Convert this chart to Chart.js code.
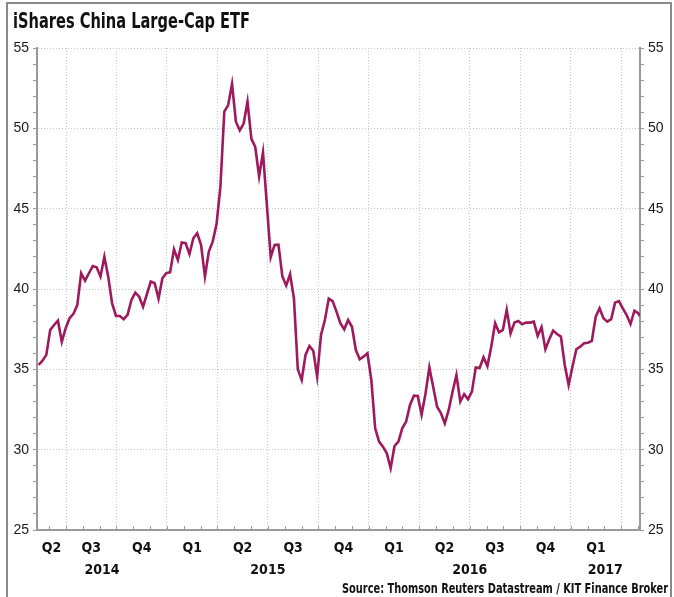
<!DOCTYPE html>
<html>
<head>
<meta charset="utf-8">
<script src="https://cdn.jsdelivr.net/npm/chart.js@4"></script>
<style>
  html, body { margin: 0; padding: 0; background: #fff; }
  #wrap { width: 674px; height: 597px; }
</style>
</head>
<body>
<div id="wrap"><canvas id="c" width="674" height="597"></canvas></div>
<script>
// ---- data (x = weeks since 1 Jan 2014, y = ETF price in USD) ----
const weeks = [
  19,20,21,22,23,24,25,26,27,28,29,30,31,32,33,34,35,36,37,38,39,40,41,42,43,44,45,46,
  48,49,50,51,52,53,54,55,56,57,58,59,60,61,62,63,64,65,66,67,68,69,70,71,72,73,74,75,76,77,
  79,80,81,82,83,84,85,86,87,88,89,90,91,92,93,94,95,96,97,98,99,100,101,102,103,104,105,
  106,107,108,109,110,111,112,113,114,115,116,117,118,119,120,121,122,123,124,125,126,127,
  128,129,130,131,132,133,134,135,136,137,138,139,140,141,142,143,144,145,146,147,148,149,
  150,151,152,153,154,155,156,157,158,159,160,161,162,163,164,165,166,167,168,169,170,171,
  172,173,174,174.4
];
const prices = [
  35.27,35.54,35.90,37.45,37.76,38.03,36.72,37.56,38.18,38.45,39.00,40.98,40.52,40.98,41.43,41.35,40.77,42.00,40.77,39.10,38.32,38.32,38.12,38.39,39.32,39.77,39.52,38.90,
  40.46,40.36,39.40,40.67,40.98,41.04,42.47,41.81,42.89,42.85,42.18,43.16,43.47,42.74,40.77,42.33,42.95,44.05,46.37,51.04,51.45,52.76,50.41,49.87,50.30,51.66,49.35,48.84,47.00,48.50,
  41.98,42.74,42.76,40.80,40.21,40.92,39.42,35.00,34.34,35.90,36.46,36.16,34.55,37.14,38.07,39.40,39.25,38.59,37.87,37.49,38.07,37.65,36.20,35.62,35.79,36.00,34.34,
  31.33,30.50,30.19,29.77,28.85,30.23,30.50,31.33,31.75,32.78,33.36,33.34,32.18,33.48,35.12,33.90,32.67,32.27,31.63,32.47,33.61,34.65,
  32.99,33.45,33.14,33.61,35.12,35.08,35.75,35.20,36.41,37.87,37.30,37.45,38.70,37.24,37.91,38.01,37.81,37.91,37.91,37.97,37.08,37.62,
  36.25,36.87,37.41,37.20,37.04,35.27,34.03,35.17,36.25,36.41,36.62,36.66,36.77,38.28,38.80,38.18,37.97,38.12,39.15,39.25,38.80,38.38,
  37.82,38.65,38.49,38.32
];
const quarterLabels = ['Q2','Q3','Q4','Q1','Q2','Q3','Q4','Q1','Q2','Q3','Q4','Q1'];
const firstQuarterIndex = 1;            // Q2 2014 (quarters counted from Q1 2014 = 0)
const yearLabels = ['2014','2015','2016','2017'];
const yTickLabels = [25,30,35,40,45,50,55];
const xMin = 18.59, xMax = 174.45;      // visible range in weeks
const titleText = 'iShares China Large-Cap ETF';
const sourceText = 'Source: Thomson Reuters Datastream / KIT Finance Broker';

const WEEKS_PER_YEAR = 52.1786;
const WEEKS_PER_QUARTER = WEEKS_PER_YEAR / 4;
const WEEKS_PER_MONTH = WEEKS_PER_YEAR / 12;

const NARROW = "'Liberation Sans Narrow', 'DejaVu Sans Condensed', 'Arial Narrow', sans-serif";
const SANS = "'Liberation Sans', Arial, sans-serif";
const LINE_COLOR = '#9e1a5c';
const GRID_COLOR = '#c9c9c9';
const AXIS_COLOR = '#9a9a9a';

const monthTicks = [];
for (let m = Math.ceil(xMin / WEEKS_PER_MONTH); m * WEEKS_PER_MONTH <= xMax; m++) {
  monthTicks.push({ value: m * WEEKS_PER_MONTH, m: m });
}
const isQuarterBoundary = v => {
  const q = v / WEEKS_PER_QUARTER;
  return Math.abs(q - Math.round(q)) < 1e-6;
};

const decor = {
  id: 'decor',
  beforeDraw(chart) {
    const ctx = chart.ctx;
    ctx.save();
    ctx.fillStyle = '#fff';
    ctx.fillRect(0, 0, chart.width, chart.height);
    ctx.restore();
  },
  afterDraw(chart) {
    const ctx = chart.ctx;
    const xs = chart.scales.x;
    const area = chart.chartArea;
    ctx.save();
    // frame
    ctx.strokeStyle = '#8a8a8a';
    ctx.lineWidth = 2;
    ctx.beginPath();
    ctx.moveTo(7, chart.height + 2);
    ctx.lineTo(7, 3);
    ctx.lineTo(671, 3);
    ctx.lineTo(671, chart.height + 2);
    ctx.stroke();
    // title
    ctx.fillStyle = '#111';
    ctx.font = "bold 21px " + NARROW;
    ctx.textAlign = 'left';
    ctx.textBaseline = 'alphabetic';
    ctx.fillText(titleText, 13, 28, 237);
    // monthly tick marks (pointing up)
    ctx.strokeStyle = AXIS_COLOR;
    ctx.lineWidth = 1;
    monthTicks.forEach(t => {
      const px = Math.round(xs.getPixelForValue(t.value)) + 0.5;
      ctx.beginPath();
      ctx.moveTo(px, area.bottom);
      ctx.lineTo(px, area.bottom - 4);
      ctx.stroke();
    });
    // quarter labels
    ctx.fillStyle = '#111';
    ctx.font = "bold 14px " + NARROW;
    ctx.textAlign = 'center';
    ctx.textBaseline = 'middle';
    quarterLabels.forEach((lab, i) => {
      const q = firstQuarterIndex + i;
      const a = Math.max(xMin, q * WEEKS_PER_QUARTER);
      const b = Math.min(xMax, (q + 1) * WEEKS_PER_QUARTER);
      ctx.fillText(lab, xs.getPixelForValue((a + b) / 2), 548);
    });
    // year labels
    yearLabels.forEach((lab, i) => {
      const a = Math.max(xMin, i * WEEKS_PER_YEAR);
      const b = Math.min(xMax, (i + 1) * WEEKS_PER_YEAR);
      ctx.fillText(lab, xs.getPixelForValue((a + b) / 2), 570);
    });
    // source
    ctx.font = "bold 14.5px " + NARROW;
    ctx.textAlign = 'right';
    ctx.fillText(sourceText, 668, 589, 326);
    ctx.restore();
  }
};

const yTickOpts = () => ({
  stepSize: 1,
  autoSkip: false,
  color: '#1a1a1a',
  font: { family: SANS, size: 14 },
  padding: 4,
  callback: v => (yTickLabels.includes(v) ? String(v) : '')
});

new Chart(document.getElementById('c'), {
  type: 'line',
  data: {
    datasets: [{
      data: weeks.map((w, i) => ({ x: w, y: prices[i] })),
      borderColor: LINE_COLOR,
      borderWidth: 2.6,
      pointRadius: 0,
      tension: 0,
      fill: false
    }]
  },
  options: {
    responsive: false,
    animation: false,
    layout: { padding: { top: 48, left: 0, right: 0, bottom: 0 } },
    plugins: { legend: { display: false }, tooltip: { enabled: false }, title: { display: false } },
    scales: {
      x: {
        type: 'linear',
        min: xMin,
        max: xMax,
        afterBuildTicks: s => { s.ticks = monthTicks.map(t => ({ value: t.value })); },
        afterFit: s => { s.height = 67; },
        ticks: { display: false },
        grid: {
          color: c => (c.tick && isQuarterBoundary(c.tick.value) ? GRID_COLOR : 'rgba(0,0,0,0)'),
          lineWidth: 1,
          drawTicks: false
        },
        border: { display: true, color: AXIS_COLOR, width: 2, dash: [1, 2] }
      },
      y: {
        type: 'linear',
        position: 'left',
        min: 25,
        max: 55,
        afterFit: s => { s.width = 37; },
        ticks: yTickOpts(),
        grid: {
          color: c => (c.tick && yTickLabels.includes(c.tick.value) ? GRID_COLOR : 'rgba(0,0,0,0)'),
          lineWidth: 1,
          tickColor: AXIS_COLOR,
          tickLength: 4
        },
        border: { display: true, color: AXIS_COLOR, width: 2, dash: [1, 2] }
      },
      y2: {
        type: 'linear',
        position: 'right',
        min: 25,
        max: 55,
        afterFit: s => { s.width = 34; },
        ticks: yTickOpts(),
        grid: {
          drawOnChartArea: false,
          tickColor: AXIS_COLOR,
          tickLength: 4
        },
        border: { display: true, color: AXIS_COLOR, width: 2 }
      }
    }
  },
  plugins: [decor]
});
</script>
</body>
</html>
